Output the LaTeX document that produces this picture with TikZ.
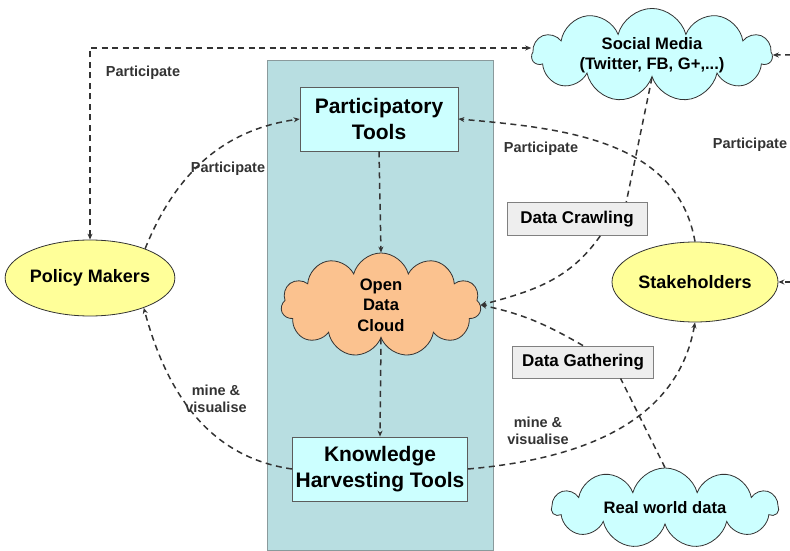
\documentclass[tikz,border=0pt]{standalone}
\usepackage{fontspec}
\setmainfont{Liberation Sans}
\usetikzlibrary{shapes.symbols,shapes.geometric,arrows.meta,calc}
\definecolor{panelfill}{HTML}{B8DEE1}
\definecolor{panelline}{HTML}{8A9A9C}
\definecolor{lcyan}{HTML}{CCFFFF}
\definecolor{corange}{HTML}{FBC28F}
\definecolor{cyellow}{HTML}{FFFF99}
\definecolor{gbox}{HTML}{EEEEEE}
\definecolor{lc}{HTML}{333333}
\begin{document}
\begin{tikzpicture}[x=1pt,y=1pt,
  >={Stealth[length=6pt,width=5pt]},
  conn/.style={draw=lc, line width=1.5pt, dash pattern=on 6pt off 4.5pt},
  toolbox/.style={draw=lc!80, fill=lcyan, line width=0.8pt, align=center,
    font=\fontsize{21}{26}\selectfont\bfseries, inner sep=1pt, minimum height=64pt},
  actor/.style={ellipse, draw=lc, fill=cyellow, line width=0.8pt, inner sep=0pt,
    font=\fontsize{18}{22}\selectfont\bfseries},
  cloudnode/.style={cloud, cloud puffs=11, cloud ignores aspect, draw=lc, line width=0.8pt,
    inner sep=0pt, align=center, font=\fontsize{16.6}{20.5}\selectfont\bfseries},
  graybox/.style={draw=gray, fill=gbox, line width=0.8pt, inner sep=0pt,
    font=\fontsize{17}{20}\selectfont\bfseries},
  lbl/.style={font=\fontsize{14.5}{17.5}\selectfont\bfseries, text=lc, align=center, inner sep=0pt}
]
\useasboundingbox (0,0) rectangle (790,550);
% panel
\node[draw=panelline, fill=panelfill, line width=1pt, minimum width=226pt, minimum height=490pt,
  anchor=south west, inner sep=0pt] (panel) at (267,-1) {};
% nodes
\node[toolbox, minimum width=158pt] (pt) at (379,431) {Participatory\\Tools};
\node[cloudnode, fill=corange, minimum width=200pt, minimum height=104pt] (odc) at (381,245) {Open\\Data\\Cloud};
\node[toolbox, minimum width=175pt] (kht) at (380,81) {Knowledge\\Harvesting Tools};
\node[actor, minimum width=166pt, minimum height=76pt] (pm) at (90,272) {Policy Makers};
\node[actor, minimum width=166pt, minimum height=80pt] (sh) at (695,268) {Stakeholders};
\node[cloudnode, fill=lcyan, minimum width=240pt, minimum height=92pt] (sm) at (652,495) {Social Media\\(Twitter, FB, G+,...)};
\node[cloudnode, fill=lcyan, minimum width=226pt, minimum height=80pt] (rwd) at (665,42) {Real world data};
\node[graybox, minimum width=140pt, minimum height=33pt] (dc) at (577,331) {Data Crawling};
\node[graybox, minimum width=141pt, minimum height=32pt] (dg) at (583,188) {Data Gathering};
% labels
\node[lbl] (l1) at (143,477) {Participate};
\node[lbl] (l2) at (228,381) {Participate};
\node[lbl] (l3) at (541,401) {Participate};
\node[lbl] (l4) at (750,405) {Participate};
\node[lbl] (l5) at (216,151) {mine \&\\visualise};
\node[lbl] (l6) at (538,119) {mine \&\\visualise};
% edge coordinates
\coordinate (edgeA) at (791,495);
\coordinate (edgeB) at (791,268);
% connectors
\draw[conn,<->] (pm.north) |- ([yshift=7pt]sm.west);
\draw[conn,->] (pm.28) to[out=68,in=188] (pt.west);
\draw[conn,->] (pt.south) -- (odc.north);
\draw[conn,->] (odc.south) -- (kht.north);
\draw[conn,->] (kht.west) to[out=172,in=-75] (pm.-29);
\draw[conn,->] (kht.east) to[out=5,in=-100] (sh.south);
\draw[conn,->] (sh.north) to[out=100,in=-5] (pt.east);
\draw[conn] (sm.south) -- ($(dc.north)!.7!(dc.north east)$);
\draw[conn,->] ($(dc.south)!.33!(dc.south east)$) to[out=-125,in=15] (odc.east);
\draw[conn] (rwd.north) -- ($(dg.south)!.53!(dg.south east)$);
\draw[conn,->] (dg.north) to[out=150,in=-12] (odc.east);
\draw[conn,->] (edgeA) -- (sm.east);
\draw[conn,->] (edgeB) -- (sh.east);
\end{tikzpicture}
\end{document}
